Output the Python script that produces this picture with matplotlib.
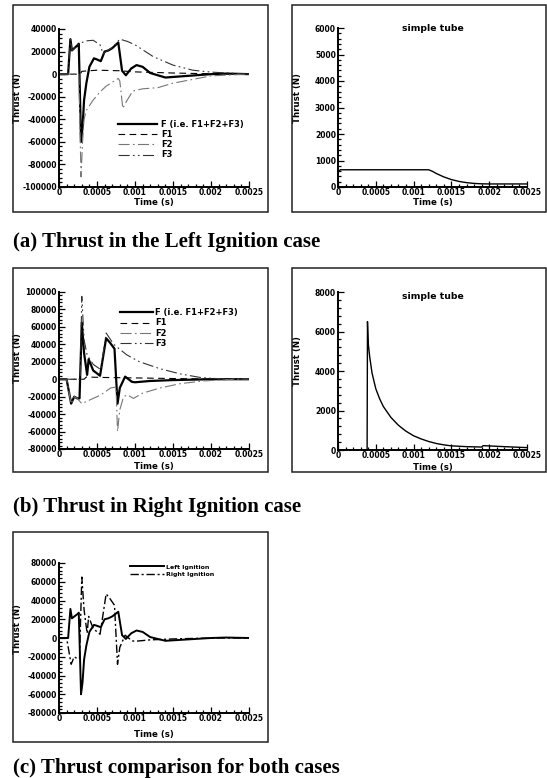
import matplotlib
matplotlib.use('Agg')
import matplotlib.pyplot as plt
from matplotlib.patches import Rectangle
from matplotlib.ticker import AutoMinorLocator

# Time axis ticks shared by all panels
time_ticks = [0, 0.0005, 0.001, 0.0015, 0.002, 0.0025]
time_labels = ['0', '0.0005', '0.001', '0.0015', '0.002', '0.0025']

# Left ignition: total thrust and its three components
t_left_F = [0, 0.00012, 0.00015, 0.00017, 0.00025, 0.00026, 0.00029, 0.00031, 0.00033,
            0.00036, 0.0004, 0.00046, 0.0005, 0.00055, 0.0006, 0.00065, 0.0007, 0.00078,
            0.00083, 0.00088, 0.00095, 0.00102, 0.0011, 0.0012, 0.0014, 0.0016, 0.0018,
            0.002, 0.0022, 0.0025]
left_F = [0, 0, 31000, 21000, 26000, 27000, -60000, -47000, -23000,
          -8000, 6500, 14000, 13000, 11500, 20000, 21000, 23000, 28000,
          3000, -1000, 5000, 8000, 6500, 1000, -3000, -2000, -1000,
          0, 500, 0]
t_left_F1 = [0, 0.00028, 0.0003, 0.0005, 0.0008, 0.001, 0.0015, 0.002, 0.0025]
left_F1 = [0, 0, 2500, 3500, 3000, 2000, 1000, 300, 0]
t_left_F2 = [0, 0.00026, 0.00029, 0.00031, 0.00033, 0.00036, 0.00045, 0.00054, 0.00062,
             0.00071, 0.00078, 0.0008, 0.00084, 0.00088, 0.00097, 0.0011, 0.0013, 0.0015,
             0.00185, 0.002, 0.0025]
left_F2 = [0, 0, -91000, -60000, -40000, -32000, -23000, -15700, -10700,
           -6800, -3800, -6000, -30500, -25000, -15000, -13000, -12000, -8000,
           -3500, -1500, 0]
t_left_F3 = [0, 0.00012, 0.00015, 0.00017, 0.00025, 0.0003, 0.00036, 0.00045, 0.00054,
             0.00058, 0.00064, 0.00071, 0.0008, 0.0009, 0.001, 0.00124, 0.0015, 0.00176,
             0.002, 0.0025]
left_F3 = [0, 0, 31000, 21000, 26000, 28000, 29500, 30000, 26000,
           18000, 21000, 24000, 31000, 29000, 26000, 15500, 8000, 3500,
           1800, 0]

# Left ignition: simple tube thrust
t_left_tube = [0, 0.00003, 0.0012, 0.00125, 0.0013, 0.0014, 0.0015, 0.0016, 0.0017,
               0.0018, 0.0019, 0.002, 0.0025]
left_tube = [550, 650, 650, 590, 510, 380, 280, 210, 165, 135, 120, 115, 115]

# Right ignition: total thrust and its three components
t_right_F = [0, 0.0001, 0.00016, 0.0002, 0.00024, 0.00027, 0.0003, 0.00033, 0.00037,
             0.00039, 0.00045, 0.00054, 0.00062, 0.00067, 0.00073, 0.00077, 0.0008,
             0.00087, 0.00096, 0.001, 0.0012, 0.0015, 0.002, 0.0025]
right_F = [0, 0, -28000, -20000, -22000, -22000, 65000, 30000, 5000,
           23000, 10000, 4000, 47000, 42000, 35000, -28000, -10000,
           3000, -3000, -3500, -2000, -1000, 0, 0]
t_right_F1 = [0, 0.00033, 0.00036, 0.0006, 0.001, 0.0015, 0.002, 0.0025]
right_F1 = [0, 0, 2500, 2000, 1500, 800, 200, 0]
t_right_F2 = [0, 0.0001, 0.00016, 0.0002, 0.00024, 0.0003, 0.0004, 0.00055, 0.00068,
              0.00075, 0.00077, 0.0008, 0.00085, 0.0009, 0.00098, 0.0011, 0.00133,
              0.0016, 0.0019, 0.0023, 0.0025]
right_F2 = [0, 0, -28000, -20000, -22000, -28000, -24000, -18000, -10000,
            -9000, -60000, -35000, -20000, -18000, -22000, -16000, -10000,
            -5000, -2000, 0, 0]
t_right_F3 = [0, 0.00028, 0.0003, 0.00033, 0.00037, 0.00045, 0.00055, 0.00062, 0.00072,
              0.00089, 0.00106, 0.00133, 0.0016, 0.00186, 0.0022, 0.0025]
right_F3 = [0, 0, 95000, 45000, 28000, 17000, 11000, 53000, 40000,
            28000, 20000, 12000, 6000, 2000, 0, 0]

# Right ignition: simple tube thrust
t_right_tube = [0, 0.000385, 0.00039, 0.0004, 0.00042, 0.00045, 0.0005, 0.00055, 0.0006,
                0.0007, 0.0008, 0.0009, 0.001, 0.0011, 0.0012, 0.0013, 0.0014, 0.0015,
                0.0017, 0.0019, 0.00192, 0.0022, 0.0025]
right_tube = [0, 0, 6500, 5400, 4700, 3900, 3100, 2600, 2200,
              1650, 1250, 950, 720, 560, 430, 330, 260, 210,
              170, 150, 220, 170, 120]

# y ticks for each panel
yticks_a1 = [-100000, -80000, -60000, -40000, -20000, 0, 20000, 40000]
yticks_a2 = [0, 1000, 2000, 3000, 4000, 5000, 6000]
yticks_b1 = [-80000, -60000, -40000, -20000, 0, 20000, 40000, 60000, 80000, 100000]
yticks_b2 = [0, 2000, 4000, 6000, 8000]
yticks_c = [-80000, -60000, -40000, -20000, 0, 20000, 40000, 60000, 80000]

W, H = 547, 778
plt.rcParams['font.family'] = 'DejaVu Sans'
plt.rcParams['font.weight'] = 'bold'

fig = plt.figure(figsize=(W / 100, H / 100), dpi=100)

dashed = (0, (6, 4))
dashdot = (0, (10, 3, 1.5, 3))
dashdotdot = (0, (10, 3, 1.5, 3, 1.5, 3))


def box(left, top, right, bottom):
    # frame drawn around each plot, in pixel units
    fig.add_artist(Rectangle((left / W, 1 - bottom / H), (right - left) / W, (bottom - top) / H,
                             transform=fig.transFigure, fill=False, lw=1.1, ec='#222222'))


def axes_px(left, top, right, bottom):
    return fig.add_axes([left / W, 1 - bottom / H, (right - left) / W, (bottom - top) / H])


def style(ax, yticks, xlab_y, ylab_x, ylab_y):
    ax.set_xlim(0, 0.0025)
    ax.set_ylim(yticks[0], yticks[-1])
    ax.set_xticks(time_ticks)
    ax.set_xticklabels(time_labels)
    ax.set_yticks(yticks)
    ax.set_yticklabels([str(v) for v in yticks])
    ax.xaxis.set_minor_locator(AutoMinorLocator(5))
    ax.yaxis.set_minor_locator(AutoMinorLocator(5))
    for s in ['top', 'right']:
        ax.spines[s].set_visible(False)
    for s in ['left', 'bottom']:
        ax.spines[s].set_linewidth(1.4)
    ax.tick_params(which='both', direction='in', width=0.9, labelsize=5.5, pad=1.5)
    ax.tick_params(axis='x', pad=0.8)
    ax.tick_params(which='major', length=4.5)
    ax.tick_params(which='minor', length=2.2)
    ax.set_xlabel('Time (s)', fontsize=6.2, fontweight='bold')
    ax.set_ylabel('Thrust (N)', fontsize=6.2, fontweight='bold')
    ax.xaxis.set_label_coords(0.5, xlab_y)
    ax.yaxis.set_label_coords(ylab_x, ylab_y)
    ax.patch.set_alpha(0)


# (a) left ignition, components
box(13, 5, 268, 212)
ax = axes_px(59, 29, 249, 187)
ax.plot(t_left_F, left_F, color='black', lw=1.6, label='F (i.e. F1+F2+F3)')
ax.plot(t_left_F1, left_F1, color='black', lw=0.8, ls=dashed, label='F1')
ax.plot(t_left_F2, left_F2, color='#777777', lw=0.8, ls=dashdot, label='F2')
ax.plot(t_left_F3, left_F3, color='#333333', lw=0.8, ls=dashdotdot, label='F3')
style(ax, yticks_a1, -0.07, -0.195, 0.56)
ax.legend(loc='center left', bbox_to_anchor=(0.31, 0.30), frameon=False, fontsize=6,
          handlelength=4.7, handletextpad=0.5, labelspacing=0.15, borderpad=0, borderaxespad=0)

# (a) simple tube
box(292, 5, 546, 212)
ax = axes_px(338, 28, 527, 187)
ax.plot(t_left_tube, left_tube, color='black', lw=1.0)
style(ax, yticks_a2, -0.07, -0.19, 0.56)
ax.text(0.5, 0.995, 'simple tube', transform=ax.transAxes, ha='center', va='center', fontsize=6.7)

# (b) right ignition, components
box(13, 268, 268, 472)
ax = axes_px(59, 292, 249, 449)
ax.plot(t_right_F, right_F, color='black', lw=1.6, label='F (i.e. F1+F2+F3)')
ax.plot(t_right_F1, right_F1, color='black', lw=0.8, ls=dashed, label='F1')
ax.plot(t_right_F2, right_F2, color='#777777', lw=0.8, ls=dashdot, label='F2')
ax.plot(t_right_F3, right_F3, color='#333333', lw=0.8, ls=dashdotdot, label='F3')
style(ax, yticks_b1, -0.085, -0.195, 0.58)
ax.legend(loc='center left', bbox_to_anchor=(0.32, 0.77), frameon=False, fontsize=6,
          handlelength=4.0, handletextpad=0.2, labelspacing=0.15, borderpad=0, borderaxespad=0)

# (b) simple tube
box(292, 268, 546, 472)
ax = axes_px(338, 292, 527, 450)
ax.plot(t_right_tube, right_tube, color='black', lw=1.0)
style(ax, yticks_b2, -0.085, -0.19, 0.56)
ax.text(0.5, 0.97, 'simple tube', transform=ax.transAxes, ha='center', va='center', fontsize=6.7)

# (c) comparison of both ignition cases
box(13, 532, 268, 742)
ax = axes_px(59, 563, 249, 713)
ax.plot(t_left_F, left_F, color='black', lw=1.4, label='Left Ignition')
ax.plot(t_right_F, right_F, color='black', lw=1.0, ls=(0, (6, 2, 1.5, 2)), label='Right Ignition')
style(ax, yticks_c, -0.11, -0.195, 0.56)
ax.legend(loc='center left', bbox_to_anchor=(0.374, 0.95), frameon=False, fontsize=4.5,
          handlelength=5.5, handletextpad=0.3, labelspacing=0.3, borderpad=0, borderaxespad=0)

# panel captions
cap = dict(family='Liberation Serif', fontweight='bold', fontsize=15, ha='left', va='center')
fig.text(13 / W, 1 - 242 / H, '(a) Thrust in the Left Ignition case', **cap)
fig.text(13 / W, 1 - 507 / H, '(b) Thrust in Right Ignition case', **cap)
fig.text(13 / W, 1 - 768 / H, '(c) Thrust comparison for both cases', **cap)

fig.savefig('out.png', dpi=100)
